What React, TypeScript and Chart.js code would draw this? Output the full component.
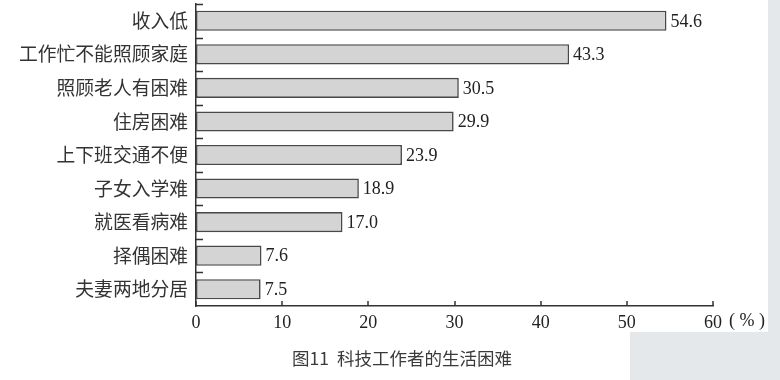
import { useEffect, useRef } from "react";
import { Chart, registerables } from "chart.js";

Chart.register(...registerables);

const categories = [
  "收入低",
  "工作忙不能照顾家庭",
  "照顾老人有困难",
  "住房困难",
  "上下班交通不便",
  "子女入学难",
  "就医看病难",
  "择偶困难",
  "夫妻两地分居",
];
const values = [54.6, 43.3, 30.5, 29.9, 23.9, 18.9, 17.0, 7.6, 7.5];
const xTicks = [0, 10, 20, 30, 40, 50, 60];
const unitLabel = "( % )";
const caption = "图11  科技工作者的生活困难";

const CJK = "'Noto Sans CJK SC', sans-serif";
const SERIF = "'Liberation Serif', 'DejaVu Serif', serif";

const decorPlugin = {
  id: "decor",
  beforeDraw(chart: any) {
    const { ctx, width, height } = chart;
    ctx.save();
    ctx.fillStyle = "#ffffff";
    ctx.fillRect(0, 0, width, height);
    ctx.fillStyle = "#e4e8eb";
    ctx.fillRect(768, 0, width - 768, height);
    ctx.fillRect(630, 332, width - 630, height - 332);
    ctx.restore();
  },
  afterDatasetsDraw(chart: any) {
    const { ctx } = chart;
    const meta = chart.getDatasetMeta(0);
    ctx.save();
    ctx.font = `18px ${SERIF}`;
    ctx.fillStyle = "#222";
    ctx.textAlign = "left";
    ctx.textBaseline = "middle";
    meta.data.forEach((bar: any, i: number) => {
      ctx.fillText(values[i].toFixed(1), bar.x + 4, bar.y + 1);
    });
    ctx.restore();
  },
  afterDraw(chart: any) {
    const { ctx, chartArea } = chart;
    const xs = chart.scales.x;
    const ys = chart.scales.y;
    ctx.save();
    ctx.strokeStyle = "#333";
    ctx.lineWidth = 1.5;
    ctx.beginPath();
    xTicks.forEach((v) => {
      const px = Math.round(xs.getPixelForValue(v));
      ctx.moveTo(px, chartArea.bottom);
      ctx.lineTo(px, chartArea.bottom - 5);
    });
    const step = ys.getPixelForValue(1) - ys.getPixelForValue(0);
    for (let i = 0; i < categories.length; i++) {
      const py = Math.round(ys.getPixelForValue(i) - step / 2) + 0.5;
      ctx.moveTo(chartArea.left, py);
      ctx.lineTo(chartArea.left + 7, py);
    }
    ctx.stroke();

    ctx.font = `18px ${SERIF}`;
    ctx.fillStyle = "#222";
    ctx.textAlign = "left";
    ctx.textBaseline = "middle";
    ctx.fillText(unitLabel, xs.getPixelForValue(60) + 16, 321);

    ctx.font = `17.5px ${CJK}`;
    ctx.fillStyle = "#3a3a3a";
    ctx.textAlign = "center";
    ctx.fillText(caption, 402, 358);
    ctx.restore();
  },
};

export default function App() {
  const ref = useRef<HTMLCanvasElement | null>(null);
  useEffect(() => {
    if (!ref.current) return;
    const chart = new Chart(ref.current, {
      type: "bar",
      data: {
        labels: categories,
        datasets: [
          {
            data: values,
            backgroundColor: "#d4d4d4",
            borderColor: "#484848",
            borderWidth: 1.6,
            borderSkipped: false,
            barPercentage: 0.6,
            categoryPercentage: 1.0,
          },
        ],
      },
      options: {
        indexAxis: "y",
        responsive: false,
        animation: false,
        layout: { padding: { top: 4, right: 67, bottom: 0, left: 0 } },
        plugins: {
          legend: { display: false },
          tooltip: { enabled: false },
          title: { display: false },
        },
        scales: {
          x: {
            type: "linear",
            min: 0,
            max: 60,
            afterFit: (s: any) => {
              s.height = 74;
              s.paddingLeft = 0;
              s.paddingRight = 0;
            },
            afterBuildTicks: (s: any) => {
              s.ticks = xTicks.map((v) => ({ value: v }));
            },
            grid: { display: false, drawTicks: false },
            border: { display: true, color: "#333", width: 1.5 },
            ticks: {
              padding: 6,
              color: "#222",
              font: { family: SERIF, size: 18 },
              maxRotation: 0,
            },
          },
          y: {
            type: "category",
            offset: true,
            afterFit: (s: any) => {
              s.width = 196;
              s.paddingTop = 0;
              s.paddingBottom = 0;
            },
            grid: { display: false, drawTicks: false, offset: true },
            border: { display: true, color: "#333", width: 1.5 },
            ticks: {
              padding: 8,
              color: "#333",
              font: { family: CJK, size: 18.8 },
              autoSkip: false,
            },
          },
        },
      },
      plugins: [decorPlugin],
    } as any);
    return () => chart.destroy();
  }, []);
  return (
    <div style={{ position: "absolute", left: 0, top: 0, width: 780, height: 380 }}>
      <canvas ref={ref} width={780} height={380} style={{ display: "block" }} />
    </div>
  );
}
